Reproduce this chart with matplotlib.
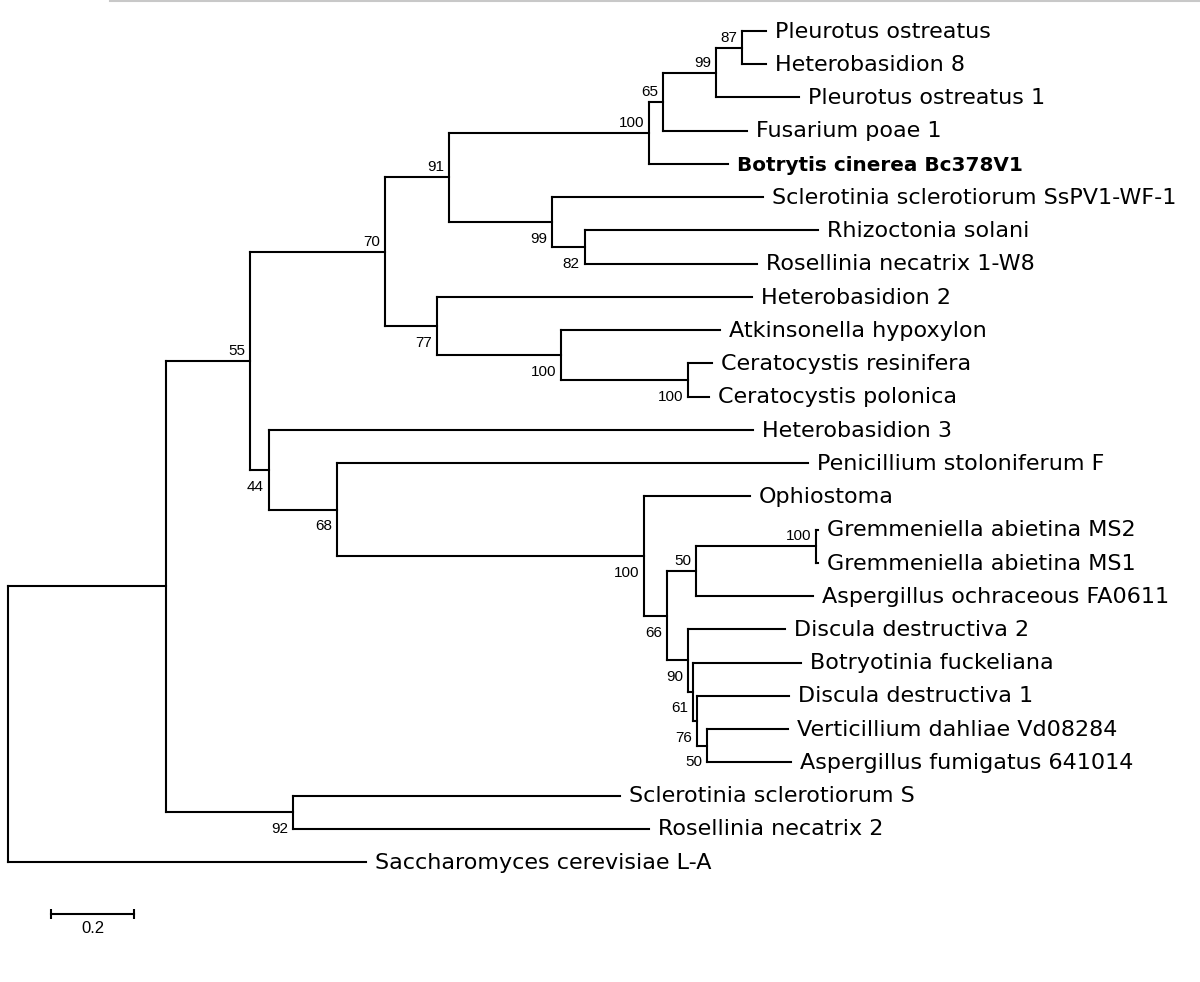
"""phylogenetic tree of mycoviruses (rectangular cladogram with bootstrap values)"""

import matplotlib.pyplot as plt
from matplotlib.lines import Line2D

plt.rcParams['font.family'] = ['Liberation Sans', 'DejaVu Sans']

# leaves, top to bottom, with distance from the root
taxa = [
    'Pleurotus ostreatus', 'Heterobasidion 8', 'Pleurotus ostreatus 1',
    'Fusarium poae 1', 'Botrytis cinerea Bc378V1',
    'Sclerotinia sclerotiorum SsPV1-WF-1', 'Rhizoctonia solani',
    'Rosellinia necatrix 1-W8', 'Heterobasidion 2', 'Atkinsonella hypoxylon',
    'Ceratocystis resinifera', 'Ceratocystis polonica', 'Heterobasidion 3',
    'Penicillium stoloniferum F', 'Ophiostoma', 'Gremmeniella abietina MS2',
    'Gremmeniella abietina MS1', 'Aspergillus ochraceous FA0611',
    'Discula destructiva 2', 'Botryotinia fuckeliana', 'Discula destructiva 1',
    'Verticillium dahliae Vd08284', 'Aspergillus fumigatus 641014',
    'Sclerotinia sclerotiorum S', 'Rosellinia necatrix 2',
    'Saccharomyces cerevisiae L-A',
]
tip_depth = [
    1.827, 1.827, 1.906, 1.781, 1.735, 1.819, 1.952, 1.805, 1.793, 1.716,
    1.696, 1.689, 1.795, 1.928, 1.788, 1.952, 1.952, 1.939, 1.872, 1.911,
    1.882, 1.880, 1.887, 1.475, 1.545, 0.863,
]
highlight = ['Botrytis cinerea Bc378V1']

# internal nodes: children, distance from root, bootstrap, label side
node_names = ['root', 'A', 'n55', 'n70', 'n91', 'n100a', 'n65', 'n99a', 'n87',
              'n99b', 'n82', 'n77', 'n100b', 'n100c', 'n44', 'n68', 'n100d',
              'n66', 'n50a', 'n100e', 'n90', 'n61', 'n76', 'n50b', 'n92']
node_children = [
    ['A', 'Saccharomyces cerevisiae L-A'],
    ['n55', 'n92'],
    ['n70', 'n44'],
    ['n91', 'n77'],
    ['n100a', 'n99b'],
    ['n65', 'Botrytis cinerea Bc378V1'],
    ['n99a', 'Fusarium poae 1'],
    ['n87', 'Pleurotus ostreatus 1'],
    ['Pleurotus ostreatus', 'Heterobasidion 8'],
    ['Sclerotinia sclerotiorum SsPV1-WF-1', 'n82'],
    ['Rhizoctonia solani', 'Rosellinia necatrix 1-W8'],
    ['Heterobasidion 2', 'n100b'],
    ['Atkinsonella hypoxylon', 'n100c'],
    ['Ceratocystis resinifera', 'Ceratocystis polonica'],
    ['Heterobasidion 3', 'n68'],
    ['Penicillium stoloniferum F', 'n100d'],
    ['Ophiostoma', 'n66'],
    ['n50a', 'n90'],
    ['n100e', 'Aspergillus ochraceous FA0611'],
    ['Gremmeniella abietina MS2', 'Gremmeniella abietina MS1'],
    ['Discula destructiva 2', 'n61'],
    ['Botryotinia fuckeliana', 'n76'],
    ['Discula destructiva 1', 'n50b'],
    ['Verticillium dahliae Vd08284', 'Aspergillus fumigatus 641014'],
    ['Sclerotinia sclerotiorum S', 'Rosellinia necatrix 2'],
]
node_depth = [0.0, 0.381, 0.583, 0.908, 1.063, 1.545, 1.578, 1.706, 1.769,
              1.311, 1.390, 1.034, 1.333, 1.639, 0.629, 0.793, 1.533, 1.588,
              1.658, 1.947, 1.639, 1.651, 1.660, 1.684, 0.687]
node_support = [None, None, 55, 70, 91, 100, 65, 99, 87, 99, 82, 77, 100, 100,
                44, 68, 100, 66, 50, 100, 90, 61, 76, 50, 92]
node_side = ['', '', 'up', 'up', 'up', 'up', 'up', 'up', 'up', 'down', 'down',
             'down', 'down', 'down', 'down', 'down', 'down', 'down', 'up', 'up',
             'down', 'down', 'down', 'down', 'down']

scale_len = 0.2

# positions
depth = dict(zip(taxa, tip_depth))
depth.update(zip(node_names, node_depth))
ypos = {t: i for i, t in enumerate(taxa)}
kids = dict(zip(node_names, node_children))


def place(name):
    if name in ypos:
        return ypos[name]
    ys = [place(c) for c in kids[name]]
    ypos[name] = (min(ys) + max(ys)) / 2.
    return ypos[name]


place('root')

fig = plt.figure(figsize=(12, 9.82), dpi=100)
ax = fig.add_axes([0, 0, 1, 1])
px = 415.  # pixels per unit of branch length
ax.set_xlim(-8 / px, 1192 / px)
ax.set_ylim((982 - 31) / 33.24, -31 / 33.24)
ax.axis('off')

line = {'c': 'k', 'lw': 1.5, 'solid_capstyle': 'projecting'}
for name in node_names:
    x = depth[name]
    ys = [ypos[c] for c in kids[name]]
    ax.plot([x, x], [min(ys), max(ys)], **line)
    for c in kids[name]:
        ax.plot([x, depth[c]], [ypos[c], ypos[c]], **line)

# taxon names (wide sans, as in the original export)
for t in taxa:
    bold = t in highlight
    ax.annotate(t, xy=(depth[t], ypos[t]), xytext=(6.5, -4.8),
                textcoords='offset points', ha='left', va='baseline',
                family='DejaVu Sans', fontsize=14.4 if bold else 16,
                fontweight='bold' if bold else 'normal')

for name, s, side in zip(node_names, node_support, node_side):
    if s is None:
        continue
    dy = 4.3 if side == 'up' else -15.
    ax.annotate(str(s), xy=(depth[name], ypos[name]), xytext=(-3.6, dy),
                textcoords='offset points', ha='right', va='baseline',
                fontsize=11)

# scale bar
sx = 43 / px
sy = (914 - 31) / 33.24
ax.plot([sx, sx + scale_len], [sy, sy], c='k', lw=1.5, marker='|',
        markersize=7, markeredgewidth=1.5)
ax.annotate(str(scale_len), xy=(sx + scale_len / 2, sy), xytext=(0, -14),
            textcoords='offset points', ha='center', va='baseline',
            fontsize=12)

# thin grey rule along the top edge
fig.add_artist(Line2D([110 / 1200, 1], [0.999, 0.999], color='#c8c8c8', lw=1.5))

plt.savefig('out.png', dpi=100)
